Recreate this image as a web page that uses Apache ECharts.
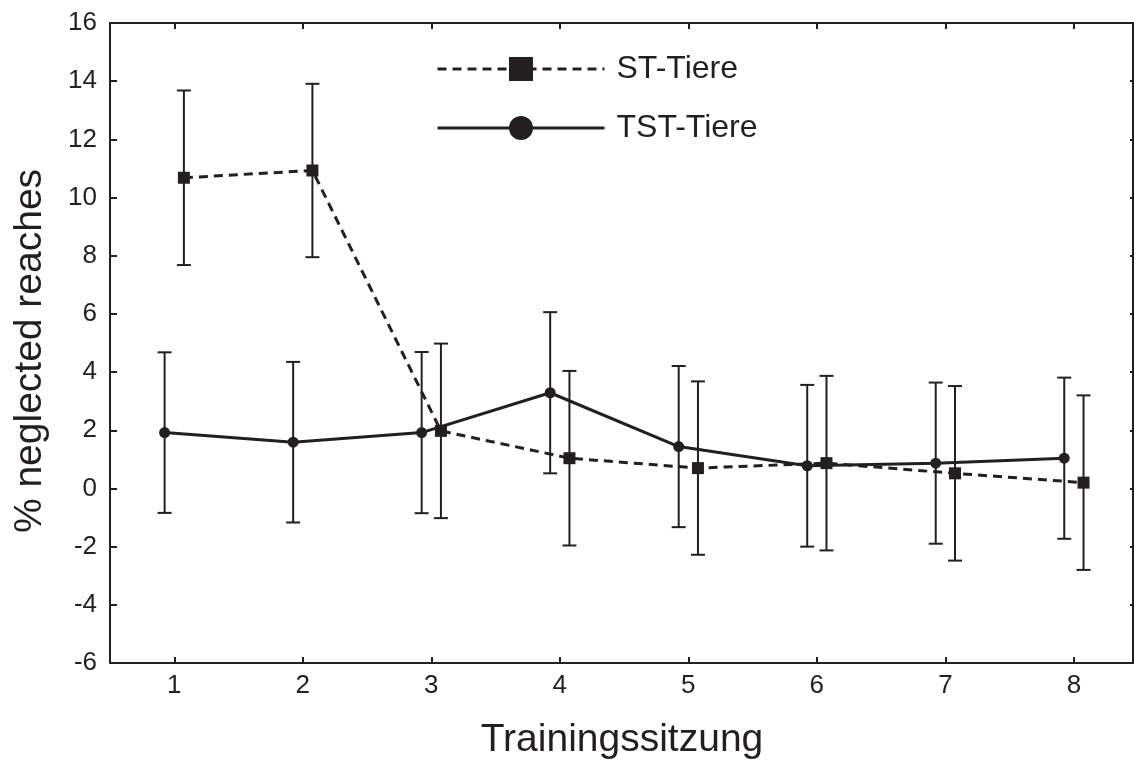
<!DOCTYPE html>
<html>
<head>
<meta charset="utf-8">
<script src="https://cdn.jsdelivr.net/npm/echarts@6/dist/echarts.min.js"></script>
<style>
html,body{margin:0;padding:0;background:#fff;}
#chart{width:1134px;height:760px;}
</style>
</head>
<body>
<div id="chart"></div>
<script>
// ---- data ----
const sessions = [1, 2, 3, 4, 5, 6, 7, 8];
const stMean  = [10.68, 10.93, 1.98, 1.04, 0.70, 0.87, 0.52, 0.20];
const stErr   = [3.00, 2.98, 3.00, 3.00, 2.98, 3.00, 3.00, 3.00];
const tstMean = [1.92, 1.59, 1.92, 3.29, 1.44, 0.78, 0.87, 1.04];
const tstErr  = [2.76, 2.76, 2.77, 2.77, 2.77, 2.78, 2.77, 2.77];
const yTicks  = [-6, -4, -2, 0, 2, 4, 6, 8, 10, 12, 14, 16];
const stName = 'ST-Tiere';
const tstName = 'TST-Tiere';
const xTitle = 'Trainingssitzung';
const yTitle = '% neglected reaches';

const ST_OFF = 0.075, TST_OFF = -0.075;
const INK = '#231f20';
const FONT = '"Liberation Sans", Arial, Helvetica, sans-serif';

const stPts  = sessions.map((s, i) => [s + ST_OFF, stMean[i]]);
const tstPts = sessions.map((s, i) => [s + TST_OFF, tstMean[i]]);
const stBars  = sessions.map((s, i) => [s + ST_OFF, stMean[i] - stErr[i], stMean[i] + stErr[i]]);
const tstBars = sessions.map((s, i) => [s + TST_OFF, tstMean[i] - tstErr[i], tstMean[i] + tstErr[i]]);

function errRender(params, api) {
  const x = api.value(0);
  const lo = api.coord([x, api.value(1)]);
  const hi = api.coord([x, api.value(2)]);
  const hw = 7;
  const st = { stroke: INK, lineWidth: 2 };
  return {
    type: 'group',
    children: [
      { type: 'line', shape: { x1: lo[0], y1: lo[1], x2: hi[0], y2: hi[1] }, style: st },
      { type: 'line', shape: { x1: lo[0] - hw, y1: lo[1], x2: lo[0] + hw, y2: lo[1] }, style: st },
      { type: 'line', shape: { x1: hi[0] - hw, y1: hi[1], x2: hi[0] + hw, y2: hi[1] }, style: st }
    ]
  };
}

const chart = echarts.init(document.getElementById('chart'), null, { renderer: 'canvas' });
const axisLine = { show: true, onZero: false, lineStyle: { color: INK, width: 2 } };

chart.setOption({
  animation: false,
  backgroundColor: '#fff',
  grid: { left: 110, right: 1, top: 23, bottom: 97, containLabel: false },
  legend: {
    data: [stName, tstName],
    orient: 'vertical',
    left: 436, top: 53,
    padding: 0,
    itemWidth: 167, itemHeight: 30, itemGap: 27,
    lineStyle: { width: 3 },
    textStyle: { fontSize: 32, color: INK, fontFamily: FONT, padding: [0, 0, 0, 7] }
  },
  xAxis: [{
    type: 'value', min: 0.5, max: 8.46,
    axisLine: axisLine,
    splitLine: { show: false },
    axisTick: { show: true, inside: true, length: 6, customValues: sessions, lineStyle: { color: INK, width: 2 } },
    axisLabel: { show: true, customValues: sessions, fontSize: 26, color: INK, fontFamily: FONT, margin: 10 }
  }, {
    type: 'value', position: 'top', min: 0.5, max: 8.46,
    axisLine: axisLine,
    splitLine: { show: false },
    axisTick: { show: true, inside: true, length: 6, customValues: sessions, lineStyle: { color: INK, width: 2 } },
    axisLabel: { show: false }
  }],
  yAxis: [{
    type: 'value', min: -6, max: 16, interval: 2,
    axisLine: axisLine,
    splitLine: { show: false },
    axisTick: { show: true, inside: true, length: 7, customValues: yTicks, lineStyle: { color: INK, width: 2 } },
    axisLabel: { show: true, customValues: yTicks, fontSize: 26, color: INK, fontFamily: FONT, margin: 13 }
  }, {
    type: 'value', position: 'right', min: -6, max: 16, interval: 2,
    axisLine: axisLine,
    splitLine: { show: false },
    axisTick: { show: true, inside: true, length: 3, customValues: yTicks, lineStyle: { color: INK, width: 2 } },
    axisLabel: { show: false }
  }],
  graphic: [
    { type: 'text', x: 622, y: 740, style: { text: xTitle, fill: INK, font: '39px ' + FONT, align: 'center', verticalAlign: 'middle' } },
    { type: 'text', x: 30, y: 351, rotation: Math.PI / 2, style: { text: yTitle, fill: INK, font: '39px ' + FONT, align: 'center', verticalAlign: 'middle' } }
  ],
  series: [
    { name: 'stErr', type: 'custom', renderItem: errRender, data: stBars, z: 1, silent: true },
    { name: 'tstErr', type: 'custom', renderItem: errRender, data: tstBars, z: 1, silent: true },
    {
      name: stName, type: 'line', data: stPts, z: 3,
      symbol: 'rect', symbolSize: 12, showSymbol: true,
      lineStyle: { color: INK, width: 3, type: [9, 6] },
      itemStyle: { color: INK }
    },
    {
      name: tstName, type: 'line', data: tstPts, z: 3,
      symbol: 'circle', symbolSize: 11, showSymbol: true,
      lineStyle: { color: INK, width: 3, type: 'solid' },
      itemStyle: { color: INK }
    }
  ]
});
</script>
</body>
</html>
